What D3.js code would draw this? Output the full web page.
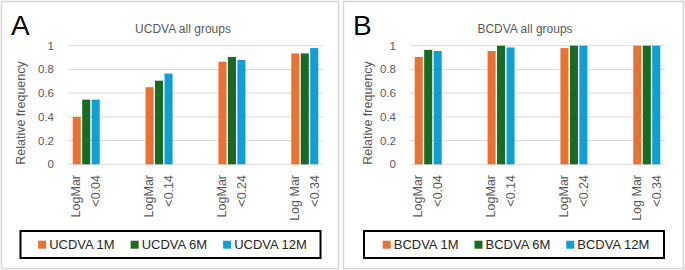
<!DOCTYPE html>
<html>
<head>
<meta charset="utf-8">
<script src="https://cdn.jsdelivr.net/npm/d3@7"></script>
<style>
  body { margin: 0; background: #fff; }
  svg { display: block; font-family: "Liberation Sans", Arial, sans-serif; }
</style>
</head>
<body>
<div id="chart"></div>
<script>
// data
const categories = ["LogMar\n<0.04", "LogMar\n<0.14", "LogMar\n<0.24", "Log Mar\n<0.34"];
const yTicks = [0, 0.2, 0.4, 0.6, 0.8, 1];

const ucdvaSeries = ["UCDVA 1M", "UCDVA 6M", "UCDVA 12M"];
const ucdva1M = [0.40, 0.65, 0.865, 0.935];
const ucdva6M = [0.545, 0.705, 0.905, 0.935];
const ucdva12M = [0.545, 0.765, 0.88, 0.98];

const bcdvaSeries = ["BCDVA 1M", "BCDVA 6M", "BCDVA 12M"];
const bcdva1M = [0.905, 0.955, 0.98, 1.0];
const bcdva6M = [0.965, 1.0, 1.0, 1.0];
const bcdva12M = [0.955, 0.985, 1.0, 1.0];

const colors = ["#E97132", "#196B24", "#0F9ED5"];

function main() {
  const width = 685, height = 270;
  const svg = d3.select("#chart").append("svg")
    .attr("width", width)
    .attr("height", height);

  drawPanel(svg.append("g"), {
    letter: "A", title: "UCDVA all groups", series: ucdvaSeries,
    values: [ucdva1M, ucdva6M, ucdva12M], left: 0, right: 339, yTitleX: 25
  });
  drawPanel(svg.append("g").attr("transform", "translate(342,0)"), {
    letter: "B", title: "BCDVA all groups", series: bcdvaSeries,
    values: [bcdva1M, bcdva6M, bcdva12M], left: 0, right: 342, yTitleX: 29.5
  });
}

function drawPanel(g, o) {
  const textColor = "#595959";
  // panel frame
  g.append("rect")
    .attr("x", 1.5).attr("y", 1.5)
    .attr("width", o.right - 2).attr("height", 267)
    .attr("fill", "#fff")
    .attr("stroke", "#d6d6d6").attr("stroke-width", 1.5);

  const x = d3.scalePoint().domain(categories).range([68, 323]).padding(0.25);
  const y = d3.scaleLinear().domain([0, 1]).range([164.3, 45.7]);
  const xs = d3.scaleBand().domain(o.series).range([-13.5, 13.5]).paddingInner(0.15);

  // gridlines
  g.append("g").selectAll("line")
    .data(yTicks)
    .join("line")
    .attr("x1", 68).attr("x2", 323)
    .attr("y1", d => y(d)).attr("y2", d => y(d))
    .attr("stroke", "#d9d9d9").attr("stroke-width", 1);

  // y tick labels
  g.append("g").selectAll("text")
    .data(yTicks)
    .join("text")
    .attr("x", 54).attr("y", d => y(d) + 4)
    .attr("text-anchor", "end")
    .attr("font-size", 11.5)
    .attr("fill", textColor)
    .text(d => d3.format("~g")(d));

  // y title
  g.append("text")
    .attr("transform", `translate(${o.yTitleX},113) rotate(-90)`)
    .attr("text-anchor", "middle")
    .attr("font-size", 12.5)
    .attr("fill", textColor)
    .text("Relative frequency");

  // bars
  o.values.forEach((vals, si) => {
    g.append("g").selectAll("rect")
      .data(vals)
      .join("rect")
      .attr("x", (d, i) => x(categories[i]) + xs(o.series[si]))
      .attr("width", xs.bandwidth())
      .attr("y", d => y(d))
      .attr("height", d => y(0) - y(d))
      .attr("fill", colors[si]);
  });

  // x labels
  const xl = g.append("g").selectAll("text")
    .data(categories)
    .join("text")
    .attr("transform", d => `translate(${x(d)},175) rotate(-90)`)
    .attr("text-anchor", "end")
    .attr("font-size", 12.5)
    .attr("fill", textColor);
  xl.selectAll("tspan")
    .data(d => d.split("\n"))
    .join("tspan")
    .attr("x", 0)
    .attr("y", (d, i) => i === 0 ? -6 : 14)
    .text(d => d);

  // title + panel letter
  g.append("text")
    .attr("x", 183).attr("y", 33)
    .attr("text-anchor", "middle")
    .attr("font-size", 12)
    .attr("fill", textColor)
    .text(o.title);
  g.append("text")
    .attr("x", 11).attr("y", 35)
    .attr("font-size", 28)
    .attr("fill", "#000")
    .text(o.letter);

  // legend
  const boxW = 300, boxX = (o.right + 2) / 2 - boxW / 2;
  g.append("rect")
    .attr("x", boxX).attr("y", 231)
    .attr("width", boxW).attr("height", 27)
    .attr("fill", "none")
    .attr("stroke", "#000").attr("stroke-width", 2);
  const items = g.append("g");
  let cur = 0;
  o.series.forEach((s, i) => {
    const it = items.append("g").attr("transform", `translate(${cur},0)`);
    it.append("rect")
      .attr("x", 0).attr("y", 240.7)
      .attr("width", 8).attr("height", 8)
      .attr("fill", colors[i]);
    const t = it.append("text")
      .attr("x", 11).attr("y", 249)
      .attr("font-size", 13)
      .attr("fill", "#262626")
      .text(s);
    cur += 11 + t.node().getComputedTextLength() + 16;
  });
  const total = cur - 16;
  items.attr("transform", `translate(${boxX + boxW / 2 - total / 2 + 2},0)`);
}

main();
</script>
</body>
</html>
